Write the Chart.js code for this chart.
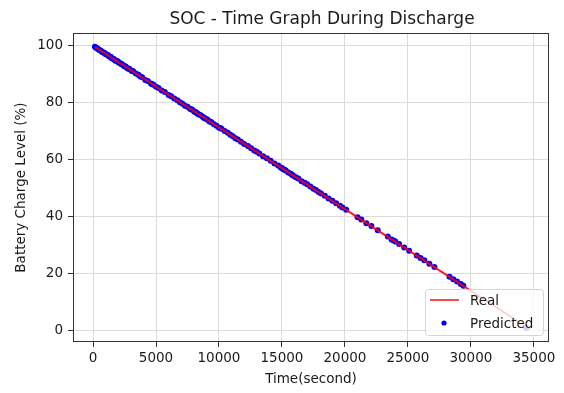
<!DOCTYPE html>
<html>
<head>
<meta charset="utf-8">
<script src="https://cdn.jsdelivr.net/npm/chart.js@4.4.1/dist/chart.umd.min.js"></script>
<style>
  html, body { margin: 0; padding: 0; background: #ffffff; }
  #wrap { width: 564px; height: 393px; position: relative; }
</style>
</head>
<body>
<div id="wrap"><canvas id="c" width="564" height="393"></canvas></div>
<script>
// ---- Data ----
const chartTitle = 'SOC - Time Graph During Discharge';
const xAxisTitle = 'Time(second)';
const yAxisTitle = 'Battery Charge Level (%)';
const seriesNames = ['Real', 'Predicted'];

// "Real" SOC line (seconds, %)
const realTime = [160, 20000, 34700];
const realSOC  = [99.3, 42.6, 0.6];

// "Predicted" SOC points (seconds, %)
const predTime = [150, 240, 320, 400, 480, 600, 680, 760, 880, 950, 1010, 1150, 1220, 1280, 1400, 1470, 1530, 1650, 1720, 1780, 1900, 1980, 2050, 2200, 2260, 2330, 2480, 2540, 2600, 2750,
  2820, 2900, 3050, 3120, 3200, 3400, 3600, 3750, 3900, 4150, 4350, 4600, 4700, 4800, 5000, 5200, 5450, 5700, 6000, 6200, 6450, 6700, 6900,
  7100, 7300, 7500, 7700, 7800, 7900, 8050, 8120, 8200, 8300, 8400, 8550, 8700, 8800, 8900, 9050, 9200, 9300, 9400, 9600, 9800, 10000, 10100, 10200, 10450, 10700,
  10900, 11100, 11300, 11500, 11750, 12000, 12300, 12550, 12800, 13000, 13200, 13500, 13800, 14100, 14400, 14700, 14900, 15000, 15100, 15200, 15300, 15500,
  15700, 15800, 15900, 16100, 16300, 16550, 16800, 17000, 17250, 17500, 17700, 17900, 18100, 18400, 18700, 19000, 19300, 19600, 19800, 20100, 21000,
  21300, 21700, 22100, 22600, 23400, 23700, 23850, 24000, 24300, 24700, 25100, 25700, 26000, 26300, 26700, 27100, 28300, 28600, 28900, 29200, 29400,
  34400];
const predSOC = [99.4, 99.0, 98.9, 98.5, 98.3, 98.1, 97.7, 97.5, 97.3, 97.0, 96.8, 96.6, 96.3, 96.0, 95.9, 95.5, 95.3, 95.1, 94.8, 94.5, 94.4, 94.2, 93.8, 93.5, 93.3, 93.2, 92.6, 92.6, 92.4, 91.8,
  91.8, 91.6, 91.0, 90.9, 90.7, 90.0, 89.6, 89.0, 88.7, 87.8, 87.4, 86.5, 86.3, 86.1, 85.4, 85.0, 84.1, 83.6, 82.5, 82.1, 81.3, 80.7, 80.0,
  79.5, 78.8, 78.4, 77.7, 77.5, 77.3, 76.7, 76.6, 76.4, 76.0, 75.7, 75.4, 74.9, 74.6, 74.3, 74.0, 73.4, 73.2, 73.0, 72.3, 71.8, 71.1, 71.0, 70.7, 69.9, 69.3,
  68.6, 68.1, 67.4, 67.0, 66.2, 65.4, 64.7, 63.9, 63.1, 62.7, 62.1, 61.1, 60.4, 59.5, 58.6, 57.9, 57.2, 57.0, 56.6, 56.4, 56.1, 55.4,
  55.0, 54.6, 54.3, 53.8, 53.3, 52.4, 51.8, 51.3, 50.5, 49.7, 49.3, 48.6, 48.1, 47.3, 46.3, 45.5, 44.7, 43.8, 43.2, 42.4, 39.8,
  39.0, 37.7, 36.7, 35.2, 33.0, 32.0, 31.6, 31.3, 30.4, 29.2, 28.1, 26.4, 25.5, 24.7, 23.5, 22.4, 19.0, 18.1, 17.3, 16.4, 15.8,
  1.1];

// Axis ranges and tick labels
const xRange = [-1590, 36200];
const yRange = [-3.85, 104.2];
const xTickValues = [0, 5000, 10000, 15000, 20000, 25000, 30000, 35000];
const yTickValues = [0, 20, 40, 60, 80, 100];

// ---- Style ----
const FONT = '"DejaVu Sans", "Liberation Sans", sans-serif';
const TEXT = '#1a1a1a';
const GRID = '#dcdcdc';
const SPINE = '#333333';
const RED = 'rgba(255,0,0,0.9)';
const BLUE = '#0000ff';

const realData = realTime.map((t, i) => ({ x: t, y: realSOC[i] }));
const predData = predTime.map((t, i) => ({ x: t, y: predSOC[i] }));

const decor = {
  id: 'decor',
  afterDraw(chart) {
    const { ctx, chartArea: a } = chart;
    ctx.save();
    // frame (all four spines)
    ctx.strokeStyle = SPINE;
    ctx.lineWidth = 1;
    const L = Math.round(a.left) + 0.5, R = Math.round(a.right) - 0.5;
    const T = Math.round(a.top) + 0.5, B = Math.round(a.bottom) - 0.5;
    ctx.strokeRect(L, T, R - L, B - T);

    // title
    ctx.fillStyle = TEXT;
    ctx.font = '17px ' + FONT;
    ctx.textAlign = 'center';
    ctx.textBaseline = 'alphabetic';
    ctx.fillText(chartTitle, 322, 24);

    // legend (lower right, semi-transparent box)
    const lx = 425.5, ly = 289.5, lw = 118, lh = 46, r = 3;
    ctx.beginPath();
    ctx.moveTo(lx + r, ly);
    ctx.lineTo(lx + lw - r, ly);
    ctx.arcTo(lx + lw, ly, lx + lw, ly + r, r);
    ctx.lineTo(lx + lw, ly + lh - r);
    ctx.arcTo(lx + lw, ly + lh, lx + lw - r, ly + lh, r);
    ctx.lineTo(lx + r, ly + lh);
    ctx.arcTo(lx, ly + lh, lx, ly + lh - r, r);
    ctx.lineTo(lx, ly + r);
    ctx.arcTo(lx, ly, lx + r, ly, r);
    ctx.closePath();
    ctx.fillStyle = 'rgba(255,255,255,0.8)';
    ctx.fill();
    ctx.strokeStyle = 'rgba(204,204,204,0.8)';
    ctx.stroke();

    // Real entry
    ctx.strokeStyle = 'rgba(255,40,40,0.85)';
    ctx.lineWidth = 2;
    ctx.beginPath();
    ctx.moveTo(430, 300);
    ctx.lineTo(459, 300);
    ctx.stroke();
    // Predicted entry
    ctx.fillStyle = BLUE;
    ctx.beginPath();
    ctx.arc(444, 323, 2.6, 0, Math.PI * 2);
    ctx.fill();

    ctx.fillStyle = TEXT;
    ctx.font = '13.5px ' + FONT;
    ctx.textAlign = 'left';
    ctx.textBaseline = 'middle';
    ctx.fillText(seriesNames[0], 470, 301);
    ctx.fillText(seriesNames[1], 470, 324);
    ctx.restore();
  }
};

new Chart(document.getElementById('c'), {
  type: 'scatter',
  data: {
    datasets: [
      {
        label: seriesNames[0],
        data: realData,
        showLine: true,
        borderColor: RED,
        backgroundColor: RED,
        borderWidth: 2,
        pointRadius: 0,
        order: 0
      },
      {
        label: seriesNames[1],
        data: predData,
        showLine: false,
        backgroundColor: BLUE,
        borderColor: BLUE,
        borderWidth: 0,
        pointRadius: 3,
        order: 1
      }
    ]
  },
  plugins: [decor],
  options: {
    responsive: false,
    animation: false,
    devicePixelRatio: 1,
    layout: { padding: { left: 0, right: 15, top: 33, bottom: 0 } },
    plugins: {
      legend: { display: false },
      title: { display: false },
      tooltip: { enabled: false }
    },
    scales: {
      x: {
        type: 'linear',
        min: xRange[0],
        max: xRange[1],
        afterBuildTicks(s) { s.ticks = xTickValues.map(v => ({ value: v })); },
        afterFit(s) { s.height = 51; },
        border: { display: false },
        grid: { color: GRID, lineWidth: 1, drawTicks: true, tickLength: 5, tickColor: SPINE },
        ticks: {
          autoSkip: false,
          maxRotation: 0,
          padding: 3,
          color: TEXT,
          font: { family: FONT, size: 13.5 },
          callback: (v) => String(v)
        },
        title: {
          display: true,
          text: xAxisTitle,
          color: TEXT,
          font: { family: FONT, size: 13.5 },
          padding: { top: 0, bottom: 5 }
        }
      },
      y: {
        type: 'linear',
        min: yRange[0],
        max: yRange[1],
        afterBuildTicks(s) { s.ticks = yTickValues.map(v => ({ value: v })); },
        afterFit(s) { s.width = 73; },
        border: { display: false },
        grid: { color: GRID, lineWidth: 1, drawTicks: true, tickLength: 5, tickColor: SPINE },
        ticks: {
          autoSkip: false,
          padding: 5,
          color: TEXT,
          font: { family: FONT, size: 13.5 },
          callback: (v) => String(v)
        },
        title: {
          display: true,
          text: yAxisTitle,
          color: TEXT,
          font: { family: FONT, size: 13.5 },
          padding: { top: 13, bottom: 0 }
        }
      }
    }
  }
});
</script>
</body>
</html>
